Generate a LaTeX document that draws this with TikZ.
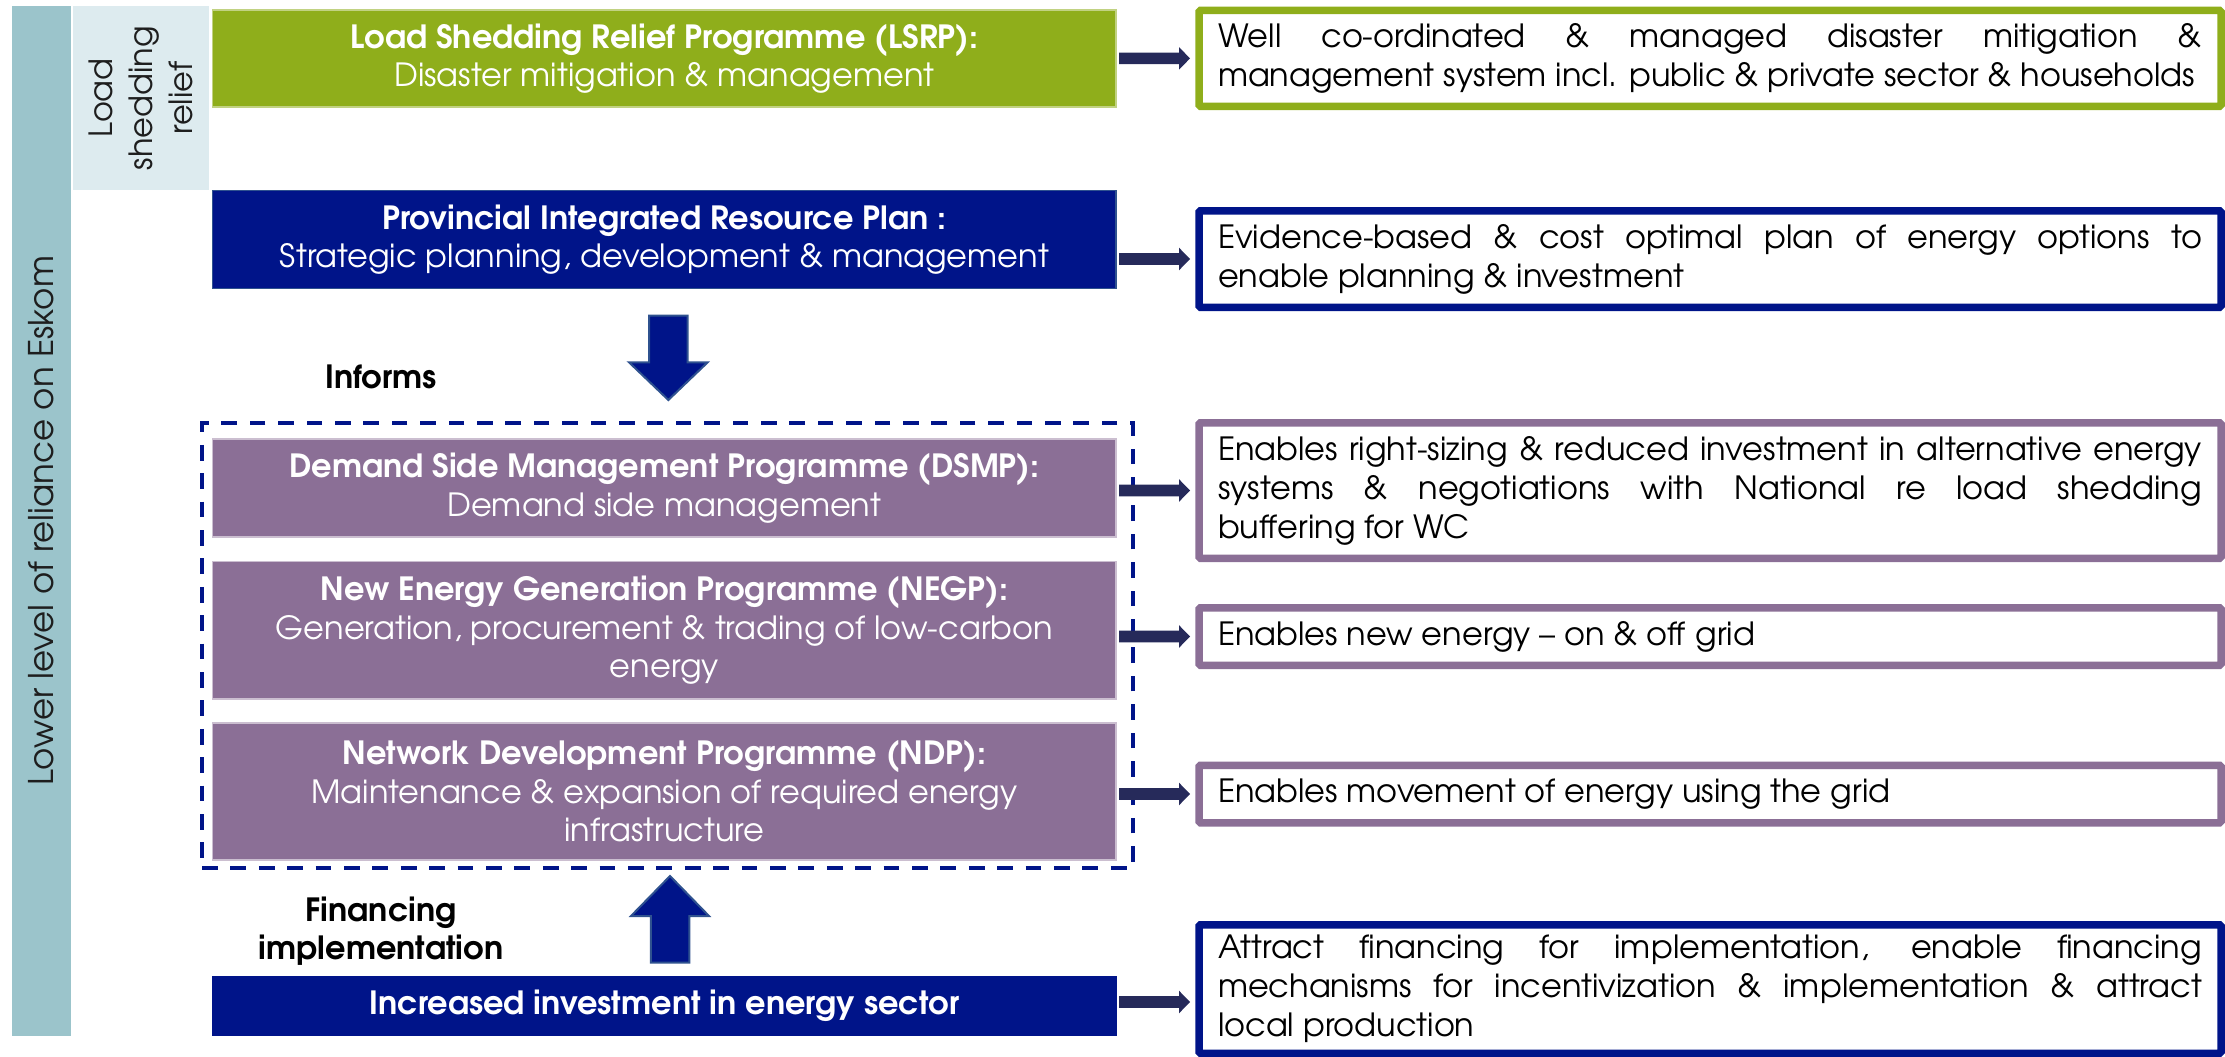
\documentclass[tikz,border=0pt]{standalone}
\usepackage{fontspec}
\setmainfont{TeX Gyre Adventor}
\usetikzlibrary{calc}
\definecolor{navy}{RGB}{0,20,137}
\definecolor{grn}{RGB}{143,174,27}
\definecolor{purp}{RGB}{139,111,150}
\definecolor{tealc}{RGB}{155,196,203}
\definecolor{lightc}{RGB}{221,235,239}
\definecolor{arrc}{RGB}{38,42,90}
\definecolor{arredge}{RGB}{47,82,143}
\definecolor{txtc}{RGB}{30,30,30}
\hyphenpenalty=10000
\exhyphenpenalty=10000
\newcommand{\sidearrow}[3]{%
 \fill[arrc] let \p1=(#1.east), \p2=(#2.west), \p3=(#3) in
 (\x1+3pt,\y3+5.8pt) -- (\x2-20pt,\y3+5.8pt) -- (\x2-20pt,\y3+11.3pt) -- (\x2-9pt,\y3)
 -- (\x2-20pt,\y3-11.3pt) -- (\x2-20pt,\y3-5.8pt) -- (\x1+3pt,\y3-5.8pt) -- cycle;}
\tikzset{
 every node/.style={outer sep=0pt, inner sep=0pt},
 bodyfont/.style={font=\fontsize{32pt}{38.6pt}\selectfont},
 fillbox/.style={bodyfont, minimum width=903.3pt, text=white, align=center, line width=1.5pt},
 greenbox/.style={fillbox, fill=grn, draw=grn!55!white},
 navybox/.style={fillbox, fill=navy, draw=arredge},
 purpbox/.style={fillbox, fill=purp, draw=purp!45!white},
 outbox/.style={font=\fontsize{32pt}{39pt}\selectfont, minimum width=1022pt, line width=7.5pt,
   fill=white, text=black, text width=984pt, align=justify, rounded corners=1.5pt},
 bigarrow/.style={fill=navy, draw=arredge, line width=2pt},
 sidelabel/.style={bodyfont, text=txtc, align=center},
 dashbox/.style={draw=navy, line width=4.3pt, dash pattern=on 15.7pt off 12.7pt, minimum width=931pt, minimum height=445pt}
}
\begin{document}
\begin{tikzpicture}[x=1pt,y=-1pt]
\useasboundingbox (0,0) rectangle (2225,1057);
% side bars
\node[sidelabel, font=\fontsize{34pt}{40pt}\selectfont, fill=tealc, rotate=90, minimum width=1030pt, minimum height=59pt] (eskom) at (41.5,521) {Lower level of reliance on Eskom};
\node[sidelabel, font=\fontsize{32pt}{40pt}\selectfont, fill=lightc, rotate=90, minimum width=184pt, minimum height=136.4pt] (lsr) at (140.8,98) {Load\\shedding\\relief};
% dashed group
\node[dashbox] (grp) at (667.5,645.5) {};
% left boxes
\node[greenbox, minimum height=97pt] (lsrp) at (664.35,58.5) {\textbf{Load Shedding Relief Programme (LSRP):}\\Disaster mitigation \& management};
\node[navybox, minimum height=98pt] (pirp) at (664.35,239.7) {\textbf{Provincial Integrated Resource Plan :}\\Strategic planning, development \& management};
\node[purpbox, minimum height=98pt] (dsmp) at (664.35,488) {\textbf{Demand Side Management Programme (DSMP):}\\Demand side management};
\node[purpbox, minimum height=137.5pt] (negp) at (664.35,630.25) {\textbf{New Energy Generation Programme (NEGP):}\\Generation, procurement \& trading of low-carbon\\energy};
\node[purpbox, minimum height=137pt] (ndp) at (664.35,791.5) {\textbf{Network Development Programme (NDP):}\\Maintenance \& expansion of required energy\\infrastructure};
\node[navybox, draw=navy, minimum height=58.5pt] (inv) at (664.35,1006.25) {\textbf{Increased investment in energy sector}};
% right boxes
\node[outbox, draw=grn, minimum height=95.8pt] (r1) at (1710,58.4) {Well co-ordinated \& managed disaster mitigation \&\linebreak management system incl. public \& private sector \& households};
\node[outbox, draw=navy, minimum height=96.5pt] (r2) at (1710,259) {Evidence-based \& cost optimal plan of energy options to\linebreak enable planning \& investment};
\node[outbox, draw=purp, minimum height=135.5pt] (r3) at (1710,490.5) {Enables right-sizing \& reduced investment in alternative energy\linebreak systems \& negotiations with National re load shedding\linebreak buffering for WC};
\node[outbox, draw=purp, minimum height=57.5pt] (r4) at (1710,636.5) {Enables new energy – on \& off grid};
\node[outbox, draw=purp, minimum height=57.5pt] (r5) at (1710,794) {Enables movement of energy using the grid};
\node[outbox, draw=navy, minimum height=128.5pt] (r6) at (1710,989) {Attract financing for implementation, enable financing\linebreak mechanisms for incentivization \& implementation \& attract\linebreak local production};
% labels
\node[sidelabel, text=black] (informs) at (381,376.7) {\textbf{Informs}};
\node[sidelabel, text=black] (financing) at (381,931) {\textbf{Financing}\\\textbf{implementation}};
% big arrows
\filldraw[bigarrow] let \p1=(pirp.south), \p2=(grp.north) in
 (\x1+4pt-19.2pt,\y1-27pt) -- (\x1+4pt+19.2pt,\y1-27pt) -- (\x1+4pt+19.2pt,\y2+60.7pt)
 -- (\x1+4pt+39.35pt,\y2+60.7pt) -- (\x1+4pt,\y2+23pt) -- (\x1+4pt-39.35pt,\y2+60.7pt)
 -- (\x1+4pt-19.2pt,\y2+60.7pt) -- cycle;
\filldraw[bigarrow] let \p1=(grp.south), \p2=(inv.north) in
 (\x2+5.65pt-19.25pt,\y2+14.3pt) -- (\x2+5.65pt+19.25pt,\y2+14.3pt) -- (\x2+5.65pt+19.25pt,\y1-48pt)
 -- (\x2+5.65pt+39pt,\y1-48pt) -- (\x2+5.65pt,\y1-8pt) -- (\x2+5.65pt-39pt,\y1-48pt)
 -- (\x2+5.65pt-19.25pt,\y1-48pt) -- cycle;
% side arrows
\sidearrow{lsrp}{r1}{r1.west}
\sidearrow{pirp}{r2}{r2.west}
\sidearrow{dsmp}{r3}{r3.west}
\sidearrow{negp}{r4}{r4.west}
\sidearrow{ndp}{r5}{r5.west}
\sidearrow{inv}{r6}{$(inv.east)+(0,-4.25)$}
\end{tikzpicture}
\end{document}
